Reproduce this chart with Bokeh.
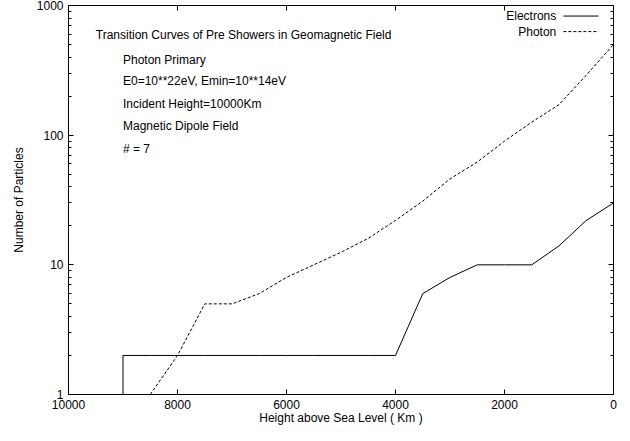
from bokeh.plotting import figure
from bokeh.models import Range1d, LogAxis, LinearAxis, FixedTicker, Label, PrintfTickFormatter
from bokeh.embed import file_html
from bokeh.resources import INLINE

# ---- data ----
height_e = [9000, 9000, 8500, 8000, 7500, 7000, 6500, 6000, 5500, 5000, 4500, 4000,
            3500, 3000, 2500, 2000, 1500, 1000, 500, 0]
electrons = [1, 2, 2, 2, 2, 2, 2, 2, 2, 2, 2, 2,
             6, 8, 10, 10, 10, 14, 22, 30]
height_p = [8500, 8000, 7500, 7000, 6500, 6000, 5500, 5000, 4500, 4000,
            3500, 3000, 2500, 2000, 1500, 1000, 500, 0]
photon = [1, 2, 5, 5, 6, 8, 10, 12.5, 16, 22,
          31, 46, 62, 90, 126, 172, 290, 500]
x_ticks = [10000, 8000, 6000, 4000, 2000, 0]
y_ticks = [1, 10, 100, 1000]
y_minor = [m * d for d in (1, 10, 100) for m in range(2, 10)]
info_lines = ["Photon Primary", "E0=10**22eV, Emin=10**14eV", "Incident Height=10000Km",
              "Magnetic Dipole Field", "# = 7"]
title_text = "Transition Curves of Pre Showers in Geomagnetic Field"

FONT = "Liberation Sans"
FS = "12px"

p = figure(width=625, height=436, y_axis_type="log",
           x_range=Range1d(10000, 0), y_range=Range1d(1, 1000),
           output_backend="svg", toolbar_location=None,
           min_border_left=68, min_border_right=12, min_border_top=5, min_border_bottom=42)
p.grid.visible = False
p.outline_line_color = "black"
p.background_fill_color = "white"
p.border_fill_color = "white"

p.line(height_e, electrons, line_color="black", line_width=1)
p.line(height_p, photon, line_color="black", line_width=1, line_dash="3 2")

def style(ax, labels=True):
    ax.axis_line_color = "black"
    ax.major_tick_line_color = "black"
    ax.minor_tick_line_color = "black"
    ax.major_tick_in = 5
    ax.major_tick_out = 0
    ax.minor_tick_in = 3
    ax.minor_tick_out = 0
    ax.major_label_text_font = FONT
    ax.major_label_text_font_size = FS
    ax.major_label_text_color = "black"
    ax.axis_label_text_font = FONT
    ax.axis_label_text_font_size = FS
    ax.axis_label_text_font_style = "normal"
    ax.axis_label_text_color = "black"
    if not labels:
        ax.major_label_text_font_size = "0px"
        ax.major_label_text_color = None

xa = p.xaxis[0]
xa.ticker = FixedTicker(ticks=x_ticks, minor_ticks=[])
xa.axis_label = "Height above Sea Level ( Km )"
xa.axis_label_standoff = -1
style(xa)

ya = p.yaxis[0]
ya.ticker = FixedTicker(ticks=y_ticks, minor_ticks=y_minor)
ya.formatter = PrintfTickFormatter(format="%d")
ya.axis_label = "Number of Particles"
ya.axis_label_standoff = 8
style(ya)

top = LinearAxis(ticker=FixedTicker(ticks=x_ticks, minor_ticks=[]))
style(top, labels=False)
p.add_layout(top, "above")
right = LogAxis(ticker=FixedTicker(ticks=y_ticks, minor_ticks=y_minor))
style(right, labels=False)
p.add_layout(right, "right")

# annotation texts (positions in data coords)
p.add_layout(Label(x=9500, y=589, text=title_text, text_font=FONT, text_font_size=FS,
                   text_baseline="middle", text_align="left", text_color="black"))
info_y = [383, 260, 175, 117, 78]
for t, yy in zip(info_lines, info_y):
    p.add_layout(Label(x=9000, y=yy, text=t, text_font=FONT, text_font_size=FS,
                       text_baseline="middle", text_align="left", text_color="black"))

# legend (text then sample line)
p.add_layout(Label(x=1050, y=829, text="Electrons", text_font=FONT, text_font_size=FS,
                   text_baseline="middle", text_align="right", text_color="black"))
p.add_layout(Label(x=1050, y=629, text="Photon", text_font=FONT, text_font_size=FS,
                   text_baseline="middle", text_align="right", text_color="black"))
p.line([920, 275], [829, 829], line_color="black", line_width=1)
p.line([920, 275], [629, 629], line_color="black", line_width=1, line_dash="3 2")

open("out.html", "w").write(file_html(p, INLINE))
